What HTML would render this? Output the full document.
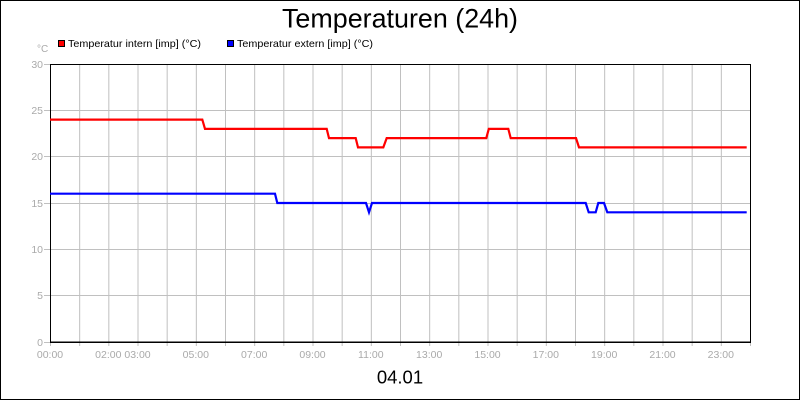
<!DOCTYPE html>
<html><head><meta charset="utf-8"><style>
html,body{margin:0;padding:0;background:#fff;}
svg{display:block;}
text{font-family:"Liberation Sans",Arial,sans-serif;}
</style></head><body>
<svg width="800" height="400" viewBox="0 0 800 400" xmlns="http://www.w3.org/2000/svg">
<rect x="0.5" y="0.5" width="799" height="399" fill="#fff" stroke="#000" stroke-width="1"/>
<text x="400" y="27.5" font-size="26.5" text-anchor="middle" fill="#000" textLength="236" lengthAdjust="spacingAndGlyphs">Temperaturen (24h)</text>
<text x="37" y="52" font-size="10" fill="#aaa">°C</text>
<rect x="58.5" y="40.5" width="6" height="6" fill="#f00" stroke="#000" stroke-width="1"/>
<text x="68" y="47" font-size="10.5" fill="#000" textLength="133" lengthAdjust="spacingAndGlyphs">Temperatur intern [imp] (°C)</text>
<rect x="227.5" y="40.5" width="6" height="6" fill="#00f" stroke="#000" stroke-width="1"/>
<text x="237" y="47" font-size="10.5" fill="#000" textLength="136" lengthAdjust="spacingAndGlyphs">Temperatur extern [imp] (°C)</text>
<g stroke="#c0c0c0" stroke-width="1">
<path d="M79.67 64V346M108.83 64V346M138 64V346M167.17 64V346M196.33 64V346M225.5 64V346M254.67 64V346M283.83 64V346M313 64V346M342.17 64V346M371.33 64V346M400.5 64V346M429.67 64V346M458.83 64V346M488 64V346M517.17 64V346M546.33 64V346M575.5 64V346M604.67 64V346M633.83 64V346M663 64V346M692.17 64V346M721.33 64V346M750.5 342V346M50.5 342V346"/>
<path d="M50 295.5H750M50 249.5H750M50 203.5H750M50 156.5H750M50 110.5H750"/>
<path d="M44 64.5H50M44 110.5H50M44 156.5H50M44 203.5H50M44 249.5H50M44 295.5H50M44 342.5H50"/>
</g>
<rect x="50.5" y="64.5" width="700" height="277.5" fill="none" stroke="#000" stroke-width="1"/>
<line x1="50" y1="342.5" x2="751" y2="342.5" stroke="#000" stroke-width="1"/>
<g font-size="10.5" fill="#aaa" text-anchor="end">
<text x="43" y="68">30</text>
<text x="43" y="114">25</text>
<text x="43" y="160">20</text>
<text x="43" y="207">15</text>
<text x="43" y="253">10</text>
<text x="43" y="299">5</text>
<text x="43" y="346">0</text>
</g>
<g font-size="10.5" fill="#aaa" text-anchor="middle">
<text x="50" y="358">00:00</text>
<text x="108.3" y="358">02:00</text>
<text x="137.5" y="358">03:00</text>
<text x="195.8" y="358">05:00</text>
<text x="254.2" y="358">07:00</text>
<text x="312.5" y="358">09:00</text>
<text x="370.8" y="358">11:00</text>
<text x="429.2" y="358">13:00</text>
<text x="487.5" y="358">15:00</text>
<text x="545.8" y="358">17:00</text>
<text x="604.2" y="358">19:00</text>
<text x="662.5" y="358">21:00</text>
<text x="720.8" y="358">23:00</text>
</g>
<text x="400" y="383.5" font-size="18.5" text-anchor="middle" fill="#000">04.01</text>
<polyline fill="none" stroke="#f00" stroke-width="2.2" stroke-linejoin="miter" points="50,119.6 202.3,119.6 205,128.9 326.7,128.9 329,138.1 355.7,138.1 358,147.4 383.3,147.4 386.7,138.1 486.3,138.1 488.8,128.9 508.3,128.9 510.7,138.1 576,138.1 579,147.4 746.7,147.4"/>
<polyline fill="none" stroke="#00f" stroke-width="2.2" stroke-linejoin="miter" points="50,193.7 275,193.7 277.3,203 366,203 369,212.3 372,203 585.7,203 588.7,212.3 595.7,212.3 598.3,203 604,203 607.3,212.3 746.7,212.3"/>
</svg>
</body></html>
